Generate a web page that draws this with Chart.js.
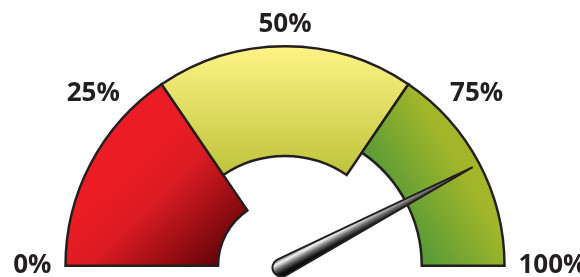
<!DOCTYPE html>
<html><head><meta charset="utf-8">
<script src="https://cdn.jsdelivr.net/npm/chart.js@4/dist/chart.umd.min.js"></script>
<style>html,body{margin:0;padding:0;background:#fff}#wrap{width:580px;height:277px;position:relative}</style>
</head><body><div id="wrap"><canvas id="c" width="580" height="277"></canvas></div>
<script>
// ---- data ----
const zoneNames = ['Low', 'Medium', 'High'];
const zoneValues = [31, 38, 31];
const needleValue = 84.6;
const tickValues = [0, 25, 50, 75, 100];
const tickLabels = ['0%', '25%', '50%', '75%', '100%'];

// ---- style ----
const BW = 2.5;
const OUTLINE = '#231F20';
const innerRatios = [0.305, 0.5, 0.623];

function geom(chart) {
  const a = chart.chartArea;
  const W = a.right - a.left, H = a.bottom - a.top;
  const R = Math.min(W - BW, 2 * (H - BW)) / 2;
  return { cx: (a.left + a.right) / 2, cy: (a.top + a.bottom) / 2 + 0.5 * R, R };
}

function zoneFill(context) {
  const chart = context.chart;
  if (!chart.chartArea) return '#ccc';
  const { cx, cy, R } = geom(chart);
  const c = chart.ctx;
  const i = context.dataIndex;
  let g;
  if (i === 0) {
    g = c.createLinearGradient(cx - 0.66 * R, cy - 0.52 * R, cx - 0.18 * R, cy - 0.02 * R);
    g.addColorStop(0, '#EC1C24');
    g.addColorStop(0.3, '#DB1B23');
    g.addColorStop(1, '#4E0003');
  } else if (i === 1) {
    g = c.createLinearGradient(0, cy - R, 0, cy - 0.42 * R);
    g.addColorStop(0, '#FFF486');
    g.addColorStop(1, '#BFC43B');
  } else {
    g = c.createLinearGradient(cx + 0.38 * R, cy - 0.48 * R, cx + 0.68 * R, cy - 0.66 * R);
    g.addColorStop(0, '#5A9B36');
    g.addColorStop(1, '#A3B62A');
  }
  return g;
}

const innerRadiusPlugin = {
  id: 'innerRadius',
  beforeDatasetsDraw(chart) {
    const meta = chart.getDatasetMeta(0);
    meta.data.forEach((arc, i) => {
      arc.innerRadius = arc.outerRadius * innerRatios[i];
    });
  }
};

const needlePlugin = {
  id: 'needle',
  afterDatasetsDraw(chart) {
    const arc0 = chart.getDatasetMeta(0).data[0];
    const cx = arc0.x, cy = arc0.y, R = arc0.outerRadius;
    const c = chart.ctx;
    const a = Math.PI + needleValue / 100 * Math.PI;
    const dx = Math.cos(a), dy = Math.sin(a);
    const ux = Math.sin(a), uy = -Math.cos(a); // perpendicular (upper side)
    const bx = cx - dx * 4, by = cy - dy * 4;
    const hw = 9;
    const L = 0.966 * R;
    const tx = cx + dx * L, ty = cy + dy * L;
    c.save();
    c.beginPath();
    c.moveTo(bx + ux * hw, by + uy * hw);
    c.lineTo(tx, ty);
    c.lineTo(bx - ux * hw, by - uy * hw);
    c.arc(bx, by, hw, a + Math.PI / 2, a + 3 * Math.PI / 2, false);
    c.closePath();
    const g = c.createLinearGradient(bx + ux * hw, by + uy * hw, bx - ux * hw, by - uy * hw);
    g.addColorStop(0, '#6a6a6a');
    g.addColorStop(0.22, '#f4f4f4');
    g.addColorStop(0.5, '#6a6a6a');
    g.addColorStop(0.75, '#151515');
    g.addColorStop(1, '#000000');
    c.fillStyle = g;
    c.fill();
    c.lineWidth = 2;
    c.lineJoin = 'miter';
    c.strokeStyle = OUTLINE;
    c.stroke();
    c.restore();
  }
};

const labelPlugin = {
  id: 'gaugeLabels',
  afterDraw(chart) {
    const arc0 = chart.getDatasetMeta(0).data[0];
    const cx = arc0.x, cy = arc0.y, R = arc0.outerRadius;
    const c = chart.ctx;
    c.save();
    c.font = 'bold 26px "Open Sans"';
    c.fillStyle = OUTLINE;
    tickValues.forEach((v, i) => {
      const a = Math.PI + v / 100 * Math.PI;
      const r = R + 14;
      const x = cx + Math.cos(a) * r, y = cy + Math.sin(a) * r;
      const co = Math.cos(a), si = Math.sin(a);
      c.textAlign = co < -0.1 ? 'right' : (co > 0.1 ? 'left' : 'center');
      c.textBaseline = si < -0.1 ? 'alphabetic' : 'middle';
      c.fillText(tickLabels[i], x, y);
    });
    c.restore();
  }
};

new Chart(document.getElementById('c'), {
  type: 'doughnut',
  data: {
    labels: zoneNames,
    datasets: [{
      data: zoneValues,
      backgroundColor: zoneFill,
      borderColor: OUTLINE,
      borderWidth: BW,
      borderJoinStyle: 'miter',
      hoverOffset: 0
    }]
  },
  options: {
    responsive: false,
    devicePixelRatio: 1,
    animation: false,
    rotation: -90,
    circumference: 180,
    cutout: '50%',
    layout: { padding: { left: 64, right: 74, top: 45, bottom: 10 } },
    plugins: { legend: { display: false }, tooltip: { enabled: false } },
    events: []
  },
  plugins: [innerRadiusPlugin, needlePlugin, labelPlugin]
});
</script>
</body></html>
